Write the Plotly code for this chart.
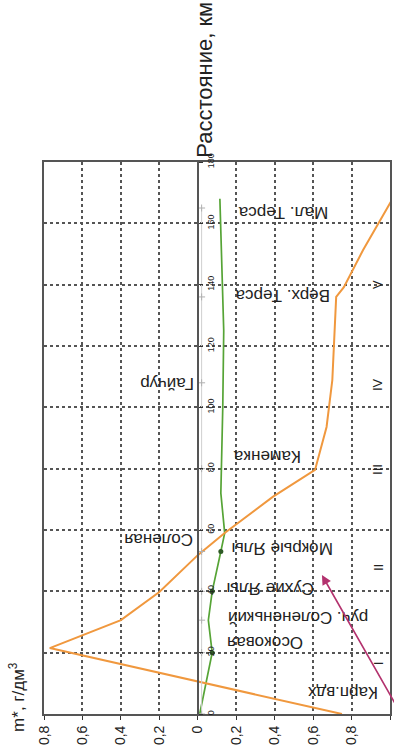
import plotly.graph_objects as go

# ---- data (value in g/dm3, distance in km) ----
orange_km = [0, 21.5, 30.6, 39.8, 51.8, 59.0, 70.8, 79.6, 93.6, 108.9, 136.0, 139.2, 151.3, 167.6]
orange_val = [-0.75, 0.77, 0.40, 0.20, 0.0, -0.14, -0.39, -0.61, -0.67, -0.70, -0.72, -0.76, -0.86, -1.01]

green_km = [0, 20, 30.6, 40, 53, 59, 72, 100, 125, 150, 168]
green_val = [-0.01, -0.075, -0.055, -0.075, -0.12, -0.14, -0.12, -0.13, -0.135, -0.125, -0.115]
green_marked = [1, 3, 4]

gray_km = [0, 20, 30.6, 40, 53, 80, 108, 136, 165]
gray_val = [-0.02, -0.02, -0.02, -0.02, -0.02, -0.02, -0.02, -0.02, -0.02]

value_ticks = [0.8, 0.6, 0.4, 0.2, 0, -0.2, -0.4, -0.6, -0.8, -1]
value_ticktext = ["0,8", "0,6", "0,4", "0,2", "0", "0,2", "0,4", "0,6", "0,8", "-1"]
km_ticks = [0, 20, 40, 60, 80, 100, 120, 140, 160, 180]
km_ticktext = [str(v) for v in km_ticks]

river_names = ["Мал. Терса", "Верх. Терса", "Гайчур", "Каменка", "Соленая", "Мокрые Ялы",
               "Сухие Ялы", "руч. Солененький", "Осоковая", "Карп.вдх"]
river_label_x = [-0.444, -0.438, 0.160, -0.360, 0.207, -0.438, -0.381, -0.522, -0.350, -0.750]
river_label_y = [163.7, 136.3, 107.6, 83.8, 57.1, 53.8, 41.1, 31.3, 23.1, 7.2]

zones = ["I", "II", "III", "IV", "V"]
zone_y = [16.6, 47.6, 79.6, 107.3, 139.9]
zone_x = -0.938

FONT = "Liberation Sans, Arial, sans-serif"

fig = go.Figure()

fig.add_trace(go.Scatter(x=gray_val, y=gray_km, mode="lines+markers", yaxis="y2",
                         line=dict(color="#cfcfcf", width=1),
                         marker=dict(symbol="cross-thin", size=5, line=dict(color="#b0b0b0", width=1)),
                         hoverinfo="skip", showlegend=False))
fig.add_trace(go.Scatter(x=green_val, y=green_km, mode="lines",
                         line=dict(color="#56a436", width=1.7), showlegend=False))
fig.add_trace(go.Scatter(x=[green_val[i] for i in green_marked], y=[green_km[i] for i in green_marked],
                         mode="markers", marker=dict(color="#2f5a26", size=5), showlegend=False))
fig.add_trace(go.Scatter(x=orange_val, y=orange_km, mode="lines",
                         line=dict(color="#f0983e", width=2), showlegend=False))

annotations = []
for name, ax_, ay_ in zip(river_names, river_label_x, river_label_y):
    annotations.append(dict(x=ax_, y=ay_, xref="x", yref="y", text=name, showarrow=False,
                            xanchor="center", yanchor="middle",
                            textangle=180, font=dict(family=FONT, size=17, color="#222")))
for z, zy in zip(zones, zone_y):
    annotations.append(dict(x=zone_x, y=zy, xref="x", yref="y", text=z, showarrow=False,
                            xanchor="center", yanchor="middle",
                            textangle=-90, font=dict(family=FONT, size=13, color="#222")))
annotations.append(dict(x=-0.646, y=45.3, ax=-1.03, ay=3, xref="x", yref="y", axref="x", ayref="y",
                        text="", showarrow=True, arrowhead=2, arrowsize=1.2, arrowwidth=1.6,
                        arrowcolor="#b3326e"))
annotations.append(dict(x=0.465, y=1.149, xref="paper", yref="paper", text="Расстояние, км",
                        xanchor="center", yanchor="middle",
                        showarrow=False, textangle=-90, font=dict(family=FONT, size=22, color="#222")))
annotations.append(dict(x=-0.078, y=0.031, xref="paper", yref="paper", text="m*, г/дм<sup>3</sup>",
                        xanchor="center", yanchor="middle",
                        showarrow=False, textangle=-90, font=dict(family=FONT, size=17, color="#222")))

fig.update_layout(
    template="none",
    width=394, height=753,
    margin=dict(l=44, r=4, t=162, b=39, autoexpand=False),
    paper_bgcolor="white", plot_bgcolor="white",
    font=dict(family=FONT, color="#222"),
    showlegend=False,
    annotations=annotations,
    xaxis=dict(range=[0.8, -1], domain=[0, 1], tickvals=value_ticks, ticktext=value_ticktext,
               automargin=False,
               tickangle=-90, tickfont=dict(size=14), ticks="outside", ticklen=4, tickcolor="#333",
               showgrid=True, gridcolor="#555", griddash="dot", gridwidth=1.5,
               showline=True, linecolor="#555", linewidth=2, mirror=True,
               zeroline=False),
    yaxis=dict(range=[0, 180], tickvals=km_ticks, showticklabels=False, ticks="", automargin=False,
               showgrid=True, gridcolor="#555", griddash="dot", gridwidth=1.5,
               showline=True, linecolor="#555", linewidth=2, mirror=True, zeroline=False),
    yaxis2=dict(range=[0, 180], overlaying="y", anchor="free", position=0.8 / 1.8, side="right",
                automargin=False,
                tickvals=km_ticks, ticktext=km_ticktext, tickangle=-90, tickfont=dict(size=9, color="#222"),
                ticks="outside", ticklen=4, tickcolor="#333",
                showgrid=False, showline=True, linecolor="#555", linewidth=2, zeroline=False),
)

fig.write_html("out.html", config={"displayModeBar": False},
               post_script="document.body.style.margin='0';document.body.style.overflow='hidden';")
